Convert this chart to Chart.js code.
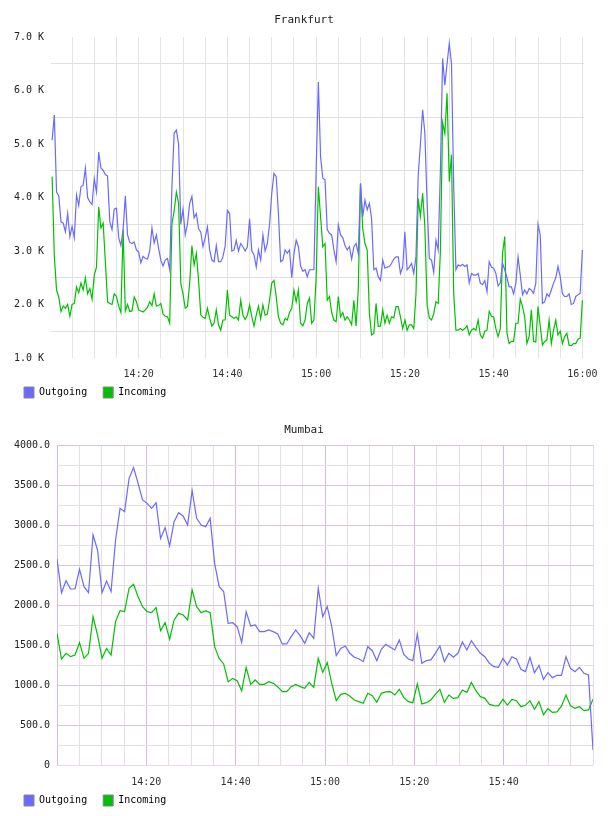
<!DOCTYPE html>
<html><head><meta charset="utf-8">
<script src="https://cdn.jsdelivr.net/npm/chart.js@4.4.1/dist/chart.umd.min.js"></script>
<style>html,body{margin:0;padding:0;background:#fff;}canvas{display:block;}</style>
</head><body>
<canvas id="frk" width="608" height="408"></canvas>
<canvas id="mum" width="608" height="408"></canvas>
<script>
const seriesNames = ['Outgoing', 'Incoming'];
const chartTitles = ['Frankfurt', 'Mumbai'];
// minutes after 14:00
const frankfurtStartMin = 0.5, frankfurtStepMin = 0.5;
const mumbaiStartMin = 0, mumbaiStepMin = 120 / 119;
const timeLabelEveryMin = 20;

// Frankfurt, thousands
const frankfurtOutgoing = [
5.07,5.54,4.10,4.03,3.55,3.52,3.36,3.70,3.27,3.46,
3.25,4.05,3.85,4.20,4.23,4.55,4.00,3.92,3.87,4.35,
4.10,4.85,4.55,4.51,4.43,4.40,3.55,3.40,3.78,3.80,
3.25,3.10,3.40,4.03,3.30,3.16,3.14,3.17,3.02,2.98,
2.78,2.90,2.86,2.85,3.00,3.43,3.15,3.30,3.05,2.83,
2.72,2.83,2.86,2.65,4.20,5.20,5.26,5.00,3.50,3.78,
3.30,3.50,3.89,4.02,3.62,3.70,3.42,3.35,3.08,3.25,
3.45,3.02,2.83,2.80,3.10,2.80,2.80,2.89,3.10,3.76,
3.70,3.00,3.02,3.20,3.00,3.14,3.08,3.00,3.08,3.60,
3.00,2.93,2.70,3.02,2.83,3.30,3.00,3.14,3.50,4.08,
4.45,4.39,3.70,2.80,2.83,3.02,2.96,3.02,2.50,2.95,
3.20,3.08,2.72,2.62,2.65,2.52,2.65,2.65,2.65,4.50,
6.16,4.76,4.36,4.33,3.40,3.33,3.30,3.02,2.80,3.49,
3.30,3.25,3.10,3.02,3.08,2.85,3.08,3.14,2.95,4.26,
3.64,3.95,3.77,3.89,3.60,2.65,2.68,2.52,2.45,2.83,
2.68,2.70,2.71,2.77,2.85,2.89,2.89,2.58,2.70,3.36,
2.65,2.70,2.77,2.58,2.90,4.42,5.00,5.64,5.20,3.90,
2.86,2.83,2.60,3.20,3.02,4.50,6.60,6.10,6.50,6.88,
6.50,4.20,2.65,2.74,2.72,2.75,2.71,2.74,2.40,2.58,
2.55,2.55,2.58,2.40,2.37,2.45,2.24,2.80,2.70,2.68,
2.58,2.35,2.40,2.77,2.65,2.50,2.33,2.33,2.20,2.40,
2.89,2.55,2.18,2.27,2.20,2.30,2.27,2.21,2.40,3.50,
3.30,2.02,2.05,2.20,2.15,2.27,2.40,2.50,2.71,2.52,
2.20,2.15,2.15,2.20,2.00,2.02,2.15,2.18,2.21,3.02];
const frankfurtIncoming = [
4.39,2.90,2.27,2.14,1.87,1.97,1.93,2.00,1.78,2.00,
2.02,2.33,2.22,2.40,2.27,2.50,2.20,2.30,2.10,2.55,
2.70,3.82,3.43,3.52,2.80,2.05,2.02,2.00,2.20,2.15,
1.97,1.85,3.40,1.88,2.00,1.87,1.88,2.14,2.05,1.90,
1.88,1.86,1.90,1.95,2.05,1.98,2.20,1.97,1.98,2.02,
1.82,1.78,1.77,1.65,3.50,3.75,4.10,3.90,2.40,2.20,
1.93,1.96,2.40,3.10,2.74,2.95,2.46,1.81,1.76,1.74,
1.93,1.74,1.60,1.65,1.90,1.62,1.52,1.71,1.71,2.27,
1.80,1.77,1.74,1.77,1.71,2.08,1.80,1.72,1.80,1.99,
1.77,1.60,1.80,1.97,1.73,1.99,1.80,1.82,2.08,2.40,
2.45,2.15,1.77,1.65,1.62,1.74,1.71,1.85,1.93,2.27,
2.05,2.27,1.65,1.60,1.71,2.02,2.12,1.65,1.71,2.50,
4.20,3.64,3.08,3.14,2.08,2.15,1.85,1.71,1.68,2.15,
1.77,1.85,1.71,1.77,1.71,1.62,2.08,1.60,2.30,4.26,
3.42,3.14,3.02,1.83,1.43,1.46,2.02,1.59,1.60,1.90,
1.65,1.80,1.65,1.77,1.75,1.96,1.96,1.77,1.55,1.71,
1.52,1.62,1.62,1.55,2.20,3.98,3.65,4.08,3.45,2.00,
1.75,1.71,1.83,2.05,2.02,3.00,5.40,5.20,5.95,4.30,
4.80,2.20,1.52,1.52,1.55,1.52,1.55,1.60,1.43,1.52,
1.55,1.52,1.71,1.43,1.37,1.50,1.52,1.87,1.78,1.77,
1.55,1.40,1.55,2.95,3.27,1.46,1.27,1.31,1.31,1.65,
1.65,2.10,1.96,1.77,1.27,1.40,1.90,1.31,1.30,1.96,
1.60,1.24,1.31,1.34,1.71,1.27,1.52,1.71,1.43,1.50,
1.27,1.40,1.46,1.24,1.23,1.27,1.27,1.35,1.37,2.08];

// Mumbai
const mumbaiOutgoing = [
2575,2154,2304,2200,2200,2446,2229,2154,2875,2688,
2154,2300,2167,2813,3208,3167,3583,3717,3521,3313,
3271,3208,3279,2833,2967,2738,3042,3154,3113,3000,
3429,3083,3000,2979,3083,2521,2229,2167,1771,1779,
1729,1533,1917,1738,1750,1667,1667,1688,1667,1638,
1513,1513,1604,1688,1613,1521,1654,1583,2208,1854,
1979,1729,1367,1458,1488,1396,1346,1329,1292,1479,
1429,1304,1446,1508,1471,1438,1563,1383,1325,1304,
1638,1271,1304,1313,1396,1488,1292,1396,1346,1396,
1538,1438,1554,1471,1396,1354,1271,1229,1221,1333,
1250,1354,1325,1196,1167,1342,1154,1246,1071,1154,
1092,1121,1121,1354,1208,1167,1221,1146,1125,188];
const mumbaiIncoming = [
1646,1325,1396,1354,1375,1529,1333,1396,1854,1625,
1333,1458,1375,1792,1929,1917,2208,2258,2104,1979,
1917,1904,1967,1679,1779,1571,1813,1896,1875,1813,
2188,1979,1904,1929,1904,1479,1333,1263,1042,1083,
1054,929,1221,1008,1063,1008,1008,1042,1021,979,
917,917,979,1008,979,958,1033,971,1333,1158,
1279,1021,804,883,896,863,813,792,771,896,
867,783,896,913,917,875,946,842,792,779,
1013,763,779,813,883,946,783,875,833,842,
938,908,1033,929,854,833,758,742,738,821,
750,821,804,729,746,804,696,792,629,704,
658,663,738,875,742,708,729,679,688,821];

const colOut = '#6a6aff', colIn = '#00c000';
const FONT = 'DejaVu Sans Mono';

function fmtTime(m) {
  const h = 14 + Math.floor(m / 60), mm = Math.round(m % 60);
  return h + ':' + String(mm).padStart(2, '0');
}
function pts(vals, start, step) { return vals.map((v, i) => ({x: start + i * step, y: v})); }

const rightSpacer = { position: 'right', display: true, grid: {display: false}, border: {display: false},
  ticks: {display: false}, afterFit: s => { s.width = 7; } };

function legendOpts() {
  return { position: 'bottom', align: 'start',
    labels: { boxWidth: 10, boxHeight: 11, padding: 16, color: '#222', font: {family: FONT, size: 10},
      generateLabels: ch => ch.data.datasets.map((ds, i) => ({ text: ds.label, fillStyle: ds.borderColor,
        strokeStyle: '#888', lineWidth: 1, hidden: false, datasetIndex: i })) } };
}
function xFit(h) { return s => { s.height = h; s._computeLabelArea = () => undefined; }; }

Chart.defaults.font.family = FONT;
Chart.defaults.animation = false;

new Chart(document.getElementById('frk'), {
  type: 'line',
  data: { datasets: [
    { label: seriesNames[0], data: pts(frankfurtOutgoing, frankfurtStartMin, frankfurtStepMin), borderColor: colOut, backgroundColor: colOut, borderWidth: 1.2, pointRadius: 0, tension: 0 },
    { label: seriesNames[1], data: pts(frankfurtIncoming, frankfurtStartMin, frankfurtStepMin), borderColor: colIn, backgroundColor: colIn, borderWidth: 1.2, pointRadius: 0, tension: 0 } ] },
  options: {
    responsive: false, devicePixelRatio: 1, events: [],
    layout: { padding: { left: 8, right: 8, top: 0, bottom: 0 } },
    plugins: { title: { display: true, text: chartTitles[0], color: '#222', font: {family: FONT, size: 11, weight: 'normal'}, padding: {top: 13.9, bottom: 9.9} },
      legend: legendOpts(), tooltip: {enabled: false} },
    scales: {
      x: { type: 'linear', min: 0.25, max: 120.44,
        grid: { drawTicks: false, color: c => (Math.abs(c.tick.value % 5) < 1e-6 ? '#e4e4e4' : 'rgba(0,0,0,0)') },
        border: { display: false },
        ticks: { stepSize: 5, includeBounds: false, autoSkip: false, maxRotation: 0, padding: 10.5, color: '#333', font: {family: FONT, size: 10},
          callback: v => (Math.abs(v % timeLabelEveryMin) < 1e-6 ? fmtTime(v) : '') },
        afterFit: xFit(13) },
      y: { min: 1, max: 7,
        grid: { drawTicks: false, color: c => (Math.abs(c.tick.value - Math.round(c.tick.value)) > 0.1 ? '#e0e0e0' : 'rgba(0,0,0,0)') },
        border: { display: false },
        ticks: { stepSize: 0.5, padding: 7, color: '#222', font: {family: FONT, size: 10},
          callback: v => (Math.abs(v - Math.round(v)) < 1e-6 ? v.toFixed(1) + ' K' : '') },
        afterFit: s => { s.width = 43; } },
      yr: rightSpacer
    }
  }
});

new Chart(document.getElementById('mum'), {
  type: 'line',
  data: { datasets: [
    { label: seriesNames[0], data: pts(mumbaiOutgoing, mumbaiStartMin, mumbaiStepMin), borderColor: colOut, backgroundColor: colOut, borderWidth: 1.2, pointRadius: 0, tension: 0 },
    { label: seriesNames[1], data: pts(mumbaiIncoming, mumbaiStartMin, mumbaiStepMin), borderColor: colIn, backgroundColor: colIn, borderWidth: 1.2, pointRadius: 0, tension: 0 } ] },
  options: {
    responsive: false, devicePixelRatio: 1, events: [],
    layout: { padding: { left: 8, right: 8, top: 0, bottom: 0 } },
    plugins: { title: { display: true, text: chartTitles[1], color: '#222', font: {family: FONT, size: 11, weight: 'normal'}, padding: {top: 15.4, bottom: 8.4} },
      legend: legendOpts(), tooltip: {enabled: false} },
    scales: {
      x: { type: 'linear', min: 0, max: 120,
        grid: { drawTicks: false, color: c => { const v = c.tick.value; if (v === 120) return '#ecd8ec'; return (v % timeLabelEveryMin === 0) ? '#d8b8d8' : '#e6e0e6'; } },
        border: { display: false },
        ticks: { stepSize: 5, autoSkip: false, maxRotation: 0, padding: 11.5, color: '#333', font: {family: FONT, size: 10},
          callback: v => (v > 0 && v < 120 && v % timeLabelEveryMin === 0 ? fmtTime(v) : '') },
        afterFit: xFit(14) },
      y: { min: 0, max: 4000,
        grid: { drawTicks: false, color: c => { const v = c.tick.value; if (v === 0) return '#ecd8ec'; return (v % 500 === 0) ? '#dcc2dc' : '#e6e0e6'; } },
        border: { display: false },
        ticks: { stepSize: 250, padding: 7, color: '#222', font: {family: FONT, size: 10},
          callback: v => (v % 500 === 0 ? (v === 0 ? '0' : v.toFixed(1)) : '') },
        afterFit: s => { s.width = 49; } },
      yr: rightSpacer
    }
  }
});
</script>
</body></html>
